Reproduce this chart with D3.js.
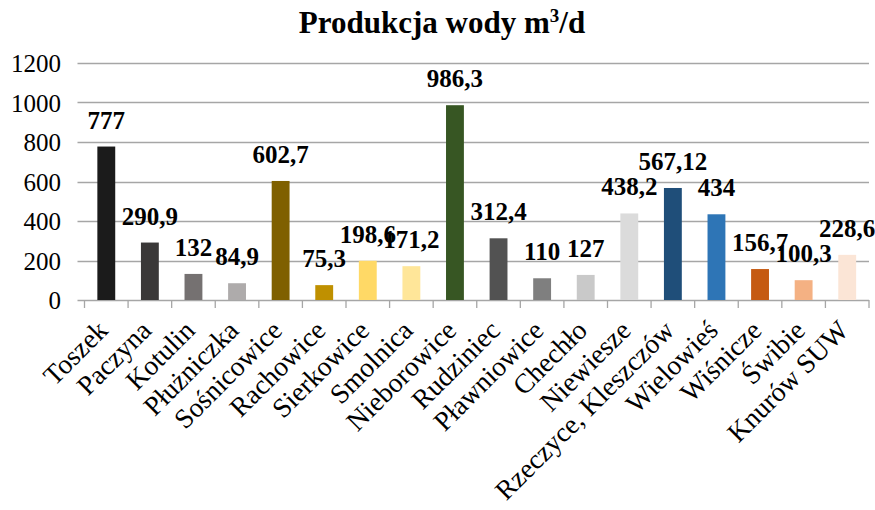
<!DOCTYPE html>
<html>
<head>
<meta charset="utf-8">
<script src="https://cdn.jsdelivr.net/npm/d3@7"></script>
<style>
  body { margin: 0; background: #fff; }
  text { font-family: "Liberation Serif", "Times New Roman", serif; }
</style>
</head>
<body>
<div id="chart"></div>
<script>
// produkcja wody per ujęcie, m3/d
var categories = ["Toszek", "Paczyna", "Kotulin", "Płużniczka", "Sośnicowice", "Rachowice",
  "Sierkowice", "Smolnica", "Nieborowice", "Rudziniec", "Pławniowice", "Chechło",
  "Niewiesze", "Rzeczyce, Kleszczów", "Wielowieś", "Wiśnicze", "Świbie", "Knurów SUW"]
var values = [777, 290.9, 132, 84.9, 602.7, 75.3, 198.6, 171.2, 986.3, 312.4, 110, 127,
  438.2, 567.12, 434, 156.7, 100.3, 228.6]
var labels = ["777", "290,9", "132", "84,9", "602,7", "75,3", "198,6", "171,2", "986,3",
  "312,4", "110", "127", "438,2", "567,12", "434", "156,7", "100,3", "228,6"]
var colors = ["#1b1b1b", "#3a3838", "#757171", "#aeabab", "#7f6000", "#bf9000", "#ffd966",
  "#ffe699", "#375623", "#525252", "#7f7f7f", "#c9c9c9", "#dbdbdb", "#1f4e79", "#2e75b6",
  "#c55a11", "#f4b183", "#fbe5d6"]
var yTicks = [0, 200, 400, 600, 800, 1000, 1200]

function drawChart() {
  var width = 875, height = 510
  var plotLeft = 84.5, plotRight = 869, plotTop = 63, plotBottom = 300

  var svg = d3.select("#chart").append("svg")
    .attr("width", width).attr("height", height)

  var x = d3.scaleBand().domain(categories).range([plotLeft, plotRight])
    .paddingInner(0.59).paddingOuter(0.295)
  var y = d3.scaleLinear().domain([0, 1200]).range([plotBottom, plotTop])

  // gridlines
  svg.append("g").selectAll("line")
    .data(yTicks)
    .enter()
    .append("line")
    .attr("x1", plotLeft - 7).attr("x2", plotRight)
    .attr("y1", function(d) { return Math.round(y(d)) + 0.5 })
    .attr("y2", function(d) { return Math.round(y(d)) + 0.5 })
    .attr("stroke", "#a6a6a6")
    .attr("stroke-width", 1.3)

  // y labels
  svg.append("g").selectAll("text")
    .data(yTicks)
    .enter()
    .append("text")
    .attr("x", 61).attr("y", function(d) { return y(d) + 9 })
    .attr("text-anchor", "end")
    .attr("font-size", 25)
    .attr("fill", "#000")
    .text(function(d) { return d })

  // category tick marks
  var step = x.step()
  svg.append("g").selectAll("line")
    .data(d3.range(categories.length + 1))
    .enter()
    .append("line")
    .attr("x1", function(i) { return plotLeft + i * step })
    .attr("x2", function(i) { return plotLeft + i * step })
    .attr("y1", plotBottom).attr("y2", plotBottom + 8)
    .attr("stroke", "#a6a6a6").attr("stroke-width", 1.3)

  // bars
  svg.append("g").selectAll("rect")
    .data(values)
    .enter()
    .append("rect")
    .attr("x", function(d, i) { return x(categories[i]) })
    .attr("width", x.bandwidth())
    .attr("y", function(d) { return y(d) })
    .attr("height", function(d) { return y(0) - y(d) })
    .attr("fill", function(d, i) { return colors[i] })

  // value labels
  svg.append("g").selectAll("text")
    .data(values)
    .enter()
    .append("text")
    .attr("x", function(d, i) { return x(categories[i]) + x.bandwidth() / 2 })
    .attr("y", function(d) { return y(d) - 18 })
    .attr("text-anchor", "middle")
    .attr("font-size", 25)
    .attr("font-weight", "bold")
    .text(function(d, i) { return labels[i] })

  // category labels, rotated
  svg.append("g").selectAll("text")
    .data(categories)
    .enter()
    .append("text")
    .attr("transform", function(d) {
      var cx = x(d) + x.bandwidth() / 2
      return "translate(" + (cx + 3) + "," + 332 + ") rotate(-45)"
    })
    .attr("text-anchor", "end")
    .attr("font-size", 27.5)
    .text(function(d) { return d })

  // title
  var title = svg.append("text")
    .attr("x", 442).attr("y", 33)
    .attr("text-anchor", "middle")
    .attr("font-size", 31)
    .attr("font-weight", "bold")
  title.append("tspan").text("Produkcja wody m")
  title.append("tspan").attr("font-size", 19).attr("dy", -11).text("3")
  title.append("tspan").attr("dy", 11).text("/d")
}

drawChart()
</script>
</body>
</html>
